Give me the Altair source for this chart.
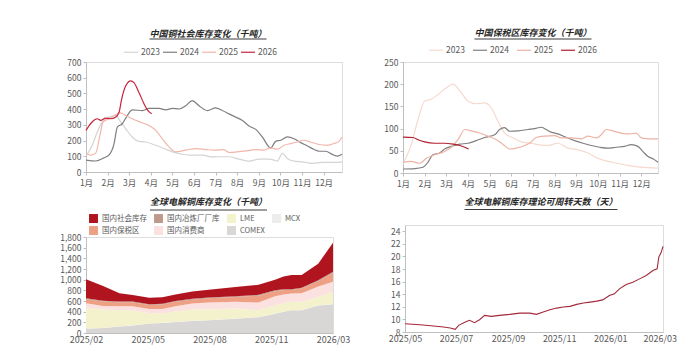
import altair as alt
import pandas as pd

FONT = "Noto Sans CJK SC"
LBL = "#595959"
AX = "#bfbfbf"

# ---------------- Panel 1: 中国铜社会库存变化（千吨） ----------------
p1_years = ["2023", "2024", "2025", "2026"]
p1_colors = ["#d4d4d4", "#7f7f7f", "#f2b5aa", "#c8243c"]

p1_2023_m = [1.0, 1.29, 1.52, 1.75, 2.06, 2.38, 2.61, 2.84, 3.14, 3.45, 3.76, 4.23, 4.69, 5.00, 5.46, 5.92,
             6.38, 6.85, 7.16, 7.62, 8.08, 8.55, 9.01, 9.47, 9.70, 9.86, 10.09, 10.32, 10.63, 11.01, 11.47,
             11.93, 12.40, 12.85]
p1_2023_v = [100, 170, 254, 317, 349, 359, 317, 275, 223, 195, 191, 170, 145, 128, 113, 107,
             107, 96, 97, 97, 82, 69, 82, 82, 76, 69, 118, 86, 69, 65, 55,
             61, 61, 65]

p1_2024_m = [1.0, 1.45, 1.83, 2.06, 2.30, 2.45, 2.68, 2.91, 3.14, 3.61, 3.92, 4.38, 4.69, 5.00, 5.31, 5.62,
             5.92, 6.23, 6.62, 7.00, 7.31, 7.62, 7.93, 8.24, 8.55, 8.86, 9.16, 9.55, 9.78, 10.01, 10.32,
             10.63, 10.94, 11.25, 11.56, 11.79, 12.10, 12.40, 12.63, 12.85]
p1_2024_v = [76, 70, 90, 107, 181, 286, 307, 359, 395, 391, 405, 405, 395, 405, 401, 422,
             454, 422, 391, 408, 391, 370, 349, 328, 292, 271, 223, 153, 195, 202, 223,
             212, 187, 166, 143, 132, 132, 112, 101, 113]

p1_2025_m = [1.0, 1.22, 1.45, 1.63, 1.79, 2.06, 2.38, 2.61, 2.84, 3.14, 3.53, 3.92, 4.23, 4.53, 4.84, 5.15,
             5.62, 6.08, 6.54, 6.93, 7.39, 7.62, 8.00, 8.39, 8.86, 9.24, 9.55, 9.86, 10.17, 10.48, 10.78,
             11.09, 11.40, 11.79, 12.17, 12.48, 12.71, 12.85]
p1_2025_v = [118, 108, 120, 223, 317, 339, 364, 376, 359, 339, 317, 296, 265, 212, 160, 128,
             139, 149, 143, 139, 143, 124, 128, 134, 143, 139, 153, 145, 170, 181, 191,
             202, 191, 175, 170, 181, 195, 223]

p1_2026_m = [1.0, 1.52, 1.68, 1.91, 2.14, 2.37, 2.53, 2.65, 2.84, 3.07, 3.22, 3.45, 3.69, 3.84, 4.04]
p1_2026_v = [265, 339, 328, 343, 339, 349, 380, 464, 549, 580, 569, 506, 433, 395, 370]

# ---------------- Panel 2: 中国保税区库存变化（千吨） ----------------
p2_years = ["2023", "2024", "2025", "2026"]
p2_colors = ["#f6d9cf", "#7f7f7f", "#eeb3a3", "#b3202f"]

p2_2023_m = [1.0, 1.38, 1.69, 2.00, 2.31, 2.62, 3.00, 3.31, 3.62, 4.00, 4.38, 4.77, 5.07, 5.38, 5.69, 6.08,
             6.46, 6.92, 7.23, 7.69, 8.15, 8.61, 9.08, 9.54, 10.00, 10.46, 10.92, 11.38, 11.84, 12.31, 12.77]
p2_2023_v = [21, 64, 120, 162, 166, 177, 192, 200, 185, 162, 156, 158, 147, 117, 90, 79,
             70, 67, 64, 62, 67, 56, 52, 45, 33, 26, 22, 17, 14, 12, 11]

p2_2024_m = [1.0, 1.54, 1.92, 2.15, 2.38, 2.69, 2.92, 3.23, 3.62, 4.00, 4.38, 4.77, 5.23, 5.46, 5.69, 5.92,
             6.31, 6.77, 7.08, 7.38, 7.61, 7.84, 8.15, 8.54, 8.92, 9.31, 9.69, 10.08, 10.46, 10.84, 11.23,
             11.54, 11.84, 12.08, 12.31, 12.54, 12.77]
p2_2024_v = [9, 10, 13, 24, 41, 45, 54, 60, 65, 67, 73, 80, 86, 98, 102, 94,
             95, 98, 100, 103, 98, 92, 88, 80, 73, 67, 62, 58, 56, 58, 60,
             64, 60, 48, 37, 32, 24]

p2_2025_m = [1.0, 1.38, 1.77, 2.08, 2.46, 2.85, 3.23, 3.54, 3.85, 4.15, 4.54, 4.92, 5.31, 5.61, 5.92, 6.23,
             6.62, 6.92, 7.15, 7.54, 8.00, 8.31, 8.77, 9.23, 9.54, 9.92, 10.15, 10.38, 10.69, 11.07, 11.46,
             11.77, 12.00, 12.38, 12.77]
p2_2025_v = [24, 26, 22, 33, 41, 47, 58, 75, 98, 95, 90, 83, 75, 65, 54, 56,
             62, 70, 80, 83, 84, 79, 79, 77, 83, 79, 86, 98, 95, 90, 88,
             90, 79, 77, 77]

p2_2026_m = [1.0, 1.46, 1.69, 2.00, 2.46, 2.92, 3.31, 3.62, 3.85, 4.03]
p2_2026_v = [81, 80, 75, 70, 67, 67, 65, 62, 58, 54]

# ---------------- Panel 3: 全球电解铜库存变化（千吨） ----------------
p3_series = ["国内社会库存", "国内冶炼厂厂库", "LME", "MCX", "国内保税区", "国内消费商", "COMEX"]
p3_colors = ["#b0151f", "#bf9a8b", "#f4f2cd", "#ededed", "#eea084", "#fbe1e0", "#d9d6d6"]
p3_stack_order = ["COMEX", "MCX", "LME", "国内消费商", "国内保税区", "国内冶炼厂厂库", "国内社会库存"]
p3_x = [0, 0.9, 1.76, 2.45, 3.33, 4.02, 4.71, 5.59, 6.46, 7.87, 9.08, 9.95, 10.4, 10.82, 11.35, 12.22, 13.0]
p3_comex = [82, 92, 122, 142, 177, 187, 207, 227, 237, 267, 297, 362, 397, 425, 427, 517, 537]
p3_mcx = [3, 3, 3, 3, 3, 3, 3, 3, 3, 3, 3, 3, 3, 3, 3, 3, 3]
p3_lme = [385, 345, 305, 283, 190, 180, 195, 210, 205, 190, 130, 155, 160, 157, 155, 160, 235]
p3_consumer = [90, 65, 70, 75, 80, 80, 95, 115, 125, 125, 140, 170, 160, 155, 160, 190, 185]
p3_bonded = [75, 86, 75, 72, 75, 85, 85, 70, 80, 90, 130, 95, 85, 65, 90, 100, 165]
p3_smelter = [15, 15, 15, 15, 15, 15, 15, 15, 15, 15, 15, 15, 15, 15, 15, 20, 25]
p3_social = [360, 274, 154, 123, 120, 120, 120, 140, 145, 172, 190, 200, 240, 268, 238, 310, 540]
p3_tick_pos = [0, 3.25, 6.5, 9.75, 13]
p3_tick_lbl = ["2025/02", "2025/05", "2025/08", "2025/11", "2026/03"]

# ---------------- Panel 4: 全球电解铜库存理论可周转天数（天） ----------------
p4_dates = ["2025-05-01", "2025-05-19", "2025-06-04", "2025-06-16", "2025-06-24", "2025-06-30",
            "2025-07-04", "2025-07-12", "2025-07-17", "2025-07-23", "2025-07-29", "2025-08-04",
            "2025-08-12", "2025-08-22", "2025-09-03", "2025-09-15", "2025-09-27", "2025-10-05",
            "2025-10-13", "2025-10-21", "2025-10-29", "2025-11-06", "2025-11-14", "2025-11-22",
            "2025-11-30", "2025-12-08", "2025-12-16", "2025-12-23", "2025-12-31", "2026-01-06",
            "2026-01-12", "2026-01-20", "2026-01-28", "2026-02-05", "2026-02-13", "2026-02-21",
            "2026-02-26", "2026-02-28", "2026-03-03", "2026-03-05"]
p4_days = [9.32, 9.16, 8.95, 8.79, 8.63, 8.43,
           9.06, 9.58, 9.85, 9.48, 9.95, 10.64,
           10.48, 10.64, 10.80, 11.0, 11.0, 10.8,
           11.17, 11.53, 11.8, 11.96, 12.07, 12.39,
           12.6, 12.75, 12.9, 13.1, 13.8, 14.07,
           14.86, 15.55, 15.92, 16.44, 16.98, 17.77,
           18.03, 19.9, 20.7, 21.6]
p4_ticks = ["2025-05-01", "2025-07-01", "2025-09-01", "2025-11-01", "2026-01-01", "2026-03-01"]

TITLE_SIZE = 9


def long_df(pairs):
    rows = []
    for name, xs, ys in pairs:
        for a, b in zip(xs, ys):
            rows.append({"s": name, "x": a, "v": b})
    return pd.DataFrame(rows)


def title(text, offset, dx=0):
    return alt.TitleParams(text=text, font=FONT, fontSize=TITLE_SIZE, fontWeight="bold", fontStyle="italic",
                           color="#262626", anchor="middle", frame="group", offset=offset, dx=dx)


def underline(text, plot_w, dx, y):
    # decorative underline below the panel title (title text is underlined in the original)
    w = len(text) * TITLE_SIZE
    cx = plot_w / 2 + dx
    return alt.Chart(pd.DataFrame({"u": [0]})).mark_rule(color="#262626", strokeWidth=0.9).encode(
        x=alt.value(cx - w / 2), x2=alt.value(cx + w / 2), y=alt.value(y))


def yaxis(values, fmt=None, ext=30):
    kw = dict(values=values, title=None, grid=False, domainColor=AX, tickColor=AX, tickSize=3,
              labelFont=FONT, labelFontSize=8.5, labelColor=LBL, labelPadding=2,
              minExtent=ext, maxExtent=ext)
    if fmt:
        kw["format"] = fmt
    return alt.Axis(**kw)


month_axis = dict(values=list(range(1, 13)), title=None, grid=False, domainColor=AX, tickColor=AX, tickSize=3,
                  labelFont=FONT, labelFontSize=8.5, labelColor=LBL, labelExpr="datum.value + '月'",
                  labelFlush=False, labelPadding=3)

# Panel 1
t1 = "中国铜社会库存变化（千吨）"
df1 = long_df([("2023", p1_2023_m, p1_2023_v), ("2024", p1_2024_m, p1_2024_v),
               ("2025", p1_2025_m, p1_2025_v), ("2026", p1_2026_m, p1_2026_v)])
l1 = alt.Chart(df1).mark_line(interpolate="monotone").encode(
    x=alt.X("x:Q", scale=alt.Scale(domain=[1, 12.85], nice=False), axis=alt.Axis(**month_axis)),
    y=alt.Y("v:Q", scale=alt.Scale(domain=[0, 700], nice=False), axis=yaxis(list(range(0, 701, 100)), ext=36)),
    color=alt.Color("s:N", scale=alt.Scale(domain=p1_years, range=p1_colors),
                    legend=alt.Legend(title=None, orient="none", legendX=37, legendY=-18, direction="horizontal",
                                      symbolType="stroke", symbolSize=196, symbolStrokeWidth=1.5,
                                      labelFont=FONT, labelFontSize=8.5, labelColor=LBL, columnPadding=0,
                                      labelOffset=2)),
    strokeWidth=alt.StrokeWidth("s:N", scale=alt.Scale(domain=p1_years, range=[1.2, 1.2, 1.2, 2.0]), legend=None),
)
p1 = alt.layer(l1, underline(t1, 256, -6, -23)).properties(width=256, height=110, title=title(t1, 0, -6))

# Panel 2
t2 = "中国保税区库存变化（千吨）"
df2 = long_df([("2023", p2_2023_m, p2_2023_v), ("2024", p2_2024_m, p2_2024_v),
               ("2025", p2_2025_m, p2_2025_v), ("2026", p2_2026_m, p2_2026_v)])
l2 = alt.Chart(df2).mark_line(interpolate="monotone").encode(
    x=alt.X("x:Q", scale=alt.Scale(domain=[1, 12.77], nice=False), axis=alt.Axis(**month_axis)),
    y=alt.Y("v:Q", scale=alt.Scale(domain=[0, 250], nice=False), axis=yaxis(list(range(0, 251, 50)), ext=30)),
    color=alt.Color("s:N", scale=alt.Scale(domain=p2_years, range=p2_colors),
                    legend=alt.Legend(title=None, orient="none", legendX=25, legendY=-20, direction="horizontal",
                                      symbolType="stroke", symbolSize=196, symbolStrokeWidth=1.5,
                                      labelFont=FONT, labelFontSize=8.5, labelColor=LBL, columnPadding=5,
                                      labelOffset=2)),
    strokeWidth=alt.StrokeWidth("s:N", scale=alt.Scale(domain=p2_years, range=[1.2, 1.2, 1.2, 1.6]), legend=None),
)
p2 = alt.layer(l2, underline(t2, 255, 2.5, -23)).properties(width=255, height=111, title=title(t2, 1, 2.5))

# Panel 3
t3 = "全球电解铜库存变化（千吨）"
series_vals = {"COMEX": p3_comex, "MCX": p3_mcx, "LME": p3_lme, "国内消费商": p3_consumer,
               "国内保税区": p3_bonded, "国内冶炼厂厂库": p3_smelter, "国内社会库存": p3_social}
rows = []
for name in p3_stack_order:
    for a, b in zip(p3_x, series_vals[name]):
        rows.append({"s": name, "x": a, "v": b, "o": p3_stack_order.index(name)})
df3 = pd.DataFrame(rows)
lbl_expr = "[" + ",".join("'" + t + "'" for t in p3_tick_lbl) + "][indexof([" + ",".join(
    str(t) for t in p3_tick_pos) + "], datum.value)]"
a3 = alt.Chart(df3).mark_area().encode(
    x=alt.X("x:Q", scale=alt.Scale(domain=[0, 13], nice=False),
            axis=alt.Axis(values=p3_tick_pos, title=None, grid=False, domainColor=AX, ticks=False,
                          labelFont=FONT, labelFontSize=9, labelColor=LBL, labelExpr=lbl_expr,
                          labelFlush=False, labelPadding=2)),
    y=alt.Y("v:Q", stack="zero", scale=alt.Scale(domain=[0, 1800], nice=False),
            axis=yaxis(list(range(0, 1801, 200)), fmt=",.0f", ext=36)),
    color=alt.Color("s:N", scale=alt.Scale(domain=p3_series, range=p3_colors),
                    legend=alt.Legend(title=None, orient="none", legendX=3, legendY=-23, direction="horizontal",
                                      columns=4, symbolType="square", symbolSize=80, symbolStrokeWidth=0,
                                      labelFont=FONT, labelFontSize=7.5, labelColor=LBL, columnPadding=7,
                                      rowPadding=3, labelOffset=4)),
    order=alt.Order("o:Q"),
)
p3 = alt.layer(a3, underline(t3, 247, -1, -27)).properties(width=247, height=96, title=title(t3, 3, -1))

# Panel 4
t4 = "全球电解铜库存理论可周转天数（天）"
df4 = pd.DataFrame({"d": p4_dates, "v": p4_days})
l4 = alt.Chart(df4).mark_line(color="#a3283a", strokeWidth=1.1).encode(
    x=alt.X("d:T", scale=alt.Scale(domain=["2025-05-01", "2026-03-05"], nice=False),
            axis=alt.Axis(values=p4_ticks, format="%Y/%m", title=None, grid=False, domainColor=AX, ticks=False,
                          labelFont=FONT, labelFontSize=9, labelColor=LBL, labelFlush=False, labelPadding=2)),
    y=alt.Y("v:Q", scale=alt.Scale(domain=[8, 25], nice=False), axis=yaxis(list(range(8, 25, 2)), ext=32)),
)
p4 = alt.layer(l4, underline(t4, 258, 7, -15.5)).properties(width=258, height=107, title=title(t4, 2, 7))

chart = alt.concat(p1, p2, p3, p4, columns=2, align="none", spacing={"row": 9, "column": 21}).resolve_scale(
    color="independent", strokeWidth="independent"
).properties(
    padding={"left": 41, "top": 20, "right": 0, "bottom": 0}
).configure_view(stroke=None).configure(font=FONT)

chart.save("out.html", embed_options={"renderer": "svg", "actions": False})
